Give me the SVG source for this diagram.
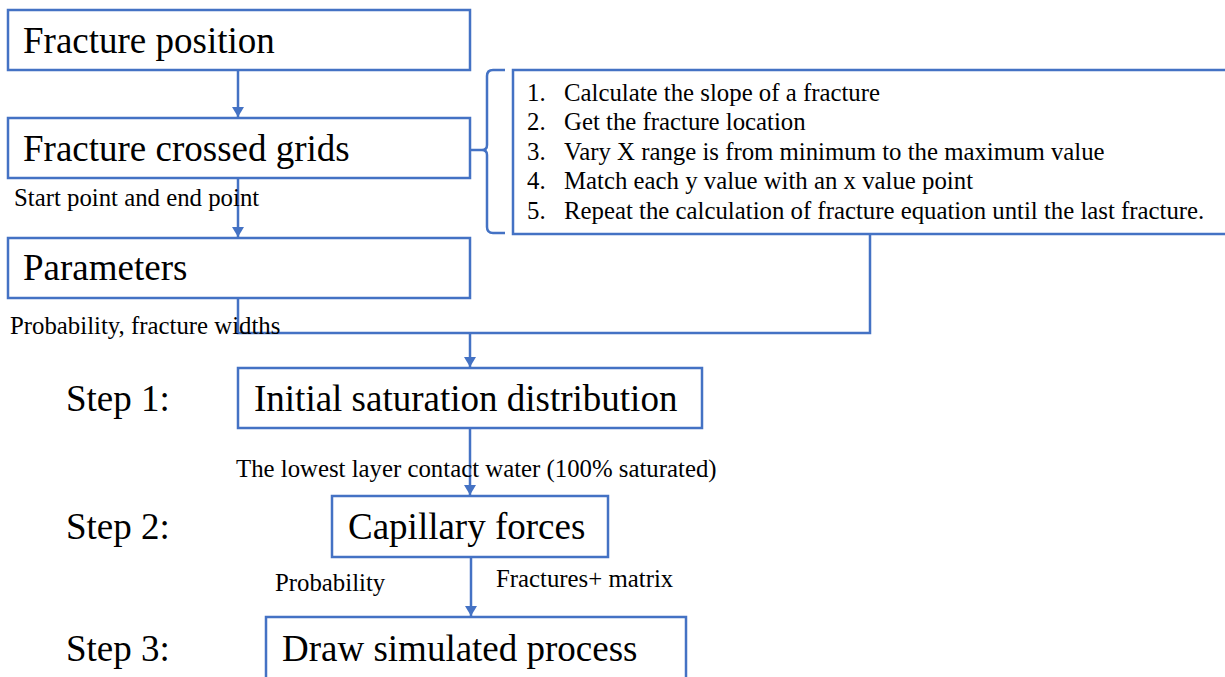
<svg xmlns="http://www.w3.org/2000/svg" width="1225" height="677" viewBox="0 0 1225 677">
<style>
.box{fill:#fff;stroke:#4472C4;stroke-width:2.5}
.ln{fill:none;stroke:#4472C4;stroke-width:2.5}
.big{font-family:"Liberation Serif","Times New Roman",serif;font-size:37px;fill:#000}
.sm{font-family:"Liberation Serif","Times New Roman",serif;font-size:24.8px;fill:#000}
</style>
<defs>
<marker id="ah" markerUnits="userSpaceOnUse" markerWidth="12" markerHeight="12" refX="10" refY="6" orient="auto">
<path d="M0,0 L10,6 L0,12 Z" fill="#4472C4"/>
</marker>
</defs>
<rect width="1225" height="677" fill="#fff"/>
<g id="connectors">
<line class="ln" x1="238" y1="70" x2="238" y2="117" marker-end="url(#ah)"/>
<line class="ln" x1="238" y1="178" x2="238" y2="237" marker-end="url(#ah)"/>
<polyline class="ln" points="238,298 238,333 870,333 870,234"/>
<line class="ln" x1="470" y1="333" x2="470" y2="367" marker-end="url(#ah)"/>
<line class="ln" x1="470" y1="428" x2="470" y2="495" marker-end="url(#ah)"/>
<line class="ln" x1="471" y1="557" x2="471" y2="616" marker-end="url(#ah)"/>
<path class="ln" d="M505,70 L493,70 Q487,70 487,76 L487,145 Q487,150 482,150 L470,150 M482,150 Q487,150 487,155 L487,227 Q487,233 493,233 L505,233"/>
</g>
<g id="n-fracture-position">
<rect class="box" x="8" y="10" width="462" height="60"/>
<text class="big" x="23" y="53">Fracture position</text>
</g>
<g id="n-fracture-crossed-grids">
<rect class="box" x="8" y="118" width="462" height="60"/>
<text class="big" x="23" y="161">Fracture crossed grids</text>
</g>
<g id="n-parameters">
<rect class="box" x="8" y="238" width="462" height="60"/>
<text class="big" x="23" y="280">Parameters</text>
</g>
<g id="n-steps-list">
<rect class="box" x="513" y="70" width="800" height="164"/>
<text class="sm" x="527" y="101">1.</text><text class="sm" x="564" y="101">Calculate the slope of a fracture</text>
<text class="sm" x="527" y="130">2.</text><text class="sm" x="564" y="130">Get the fracture location</text>
<text class="sm" x="527" y="160">3.</text><text class="sm" x="564" y="160">Vary X range is from minimum to the maximum value</text>
<text class="sm" x="527" y="189">4.</text><text class="sm" x="564" y="189">Match each y value with an x value point</text>
<text class="sm" x="527" y="219">5.</text><text class="sm" x="564" y="219">Repeat the calculation of fracture equation until the last fracture.</text>
</g>
<g id="n-initial">
<rect class="box" x="238" y="368" width="464" height="60"/>
<text class="big" x="254" y="411">Initial saturation distribution</text>
</g>
<g id="n-capillary">
<rect class="box" x="332" y="496" width="276" height="61"/>
<text class="big" x="348" y="539">Capillary forces</text>
</g>
<g id="n-draw">
<rect class="box" x="266" y="617" width="420" height="80"/>
<text class="big" x="282" y="661">Draw simulated process</text>
</g>
<g id="labels">
<text class="sm" x="14" y="206">Start point and end point</text>
<text class="sm" x="10" y="334">Probability, fracture widths</text>
<text class="sm" x="236" y="477">The lowest layer contact water (100% saturated)</text>
<text class="sm" x="275" y="591">Probability</text>
<text class="sm" x="496" y="587">Fractures+ matrix</text>
<text class="big" x="66" y="411">Step 1:</text>
<text class="big" x="66" y="539">Step 2:</text>
<text class="big" x="66" y="661">Step 3:</text>
</g>
</svg>
